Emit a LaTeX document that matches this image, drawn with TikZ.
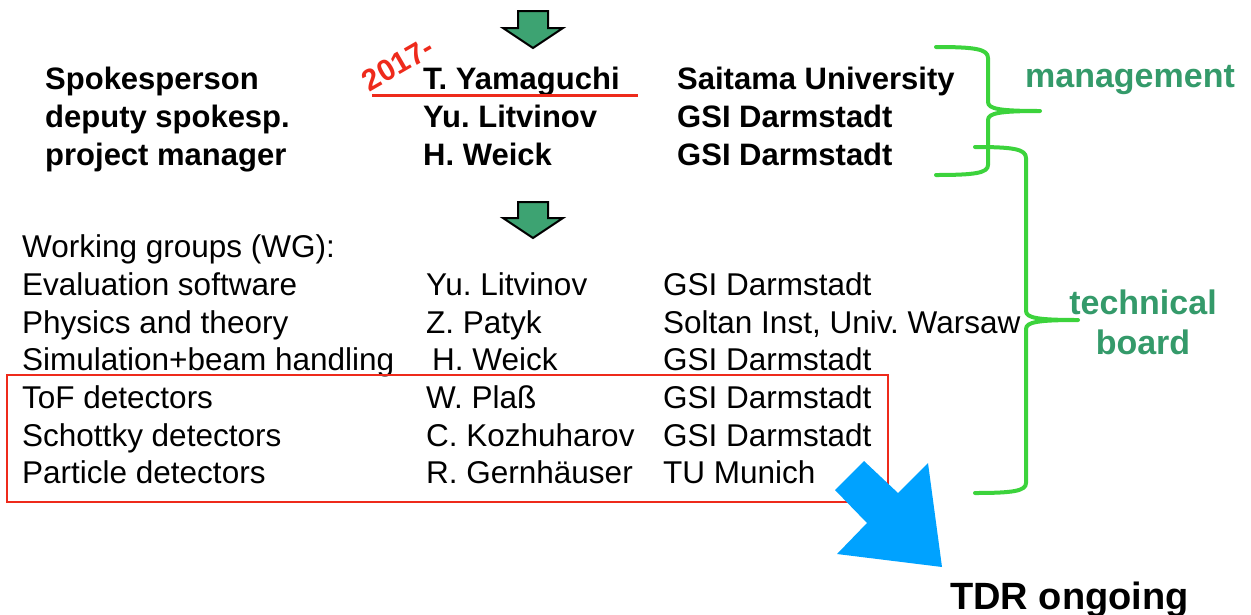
\documentclass[tikz,border=0pt]{standalone}
\usepackage{fontspec}
\setmainfont{Liberation Sans}
\usetikzlibrary{positioning}
\definecolor{bracegreen}{HTML}{3CD33C}
\definecolor{labelgreen}{HTML}{349A6A}
\definecolor{arrowgreen}{HTML}{3DA372}
\definecolor{markred}{HTML}{EE2A1B}
\definecolor{tdrblue}{HTML}{00A2FF}

\tikzset{
  boldrow/.style={anchor=base west, inner sep=0pt, font=\fontsize{31}{36}\selectfont\bfseries},
  wgrow/.style={anchor=base west, inner sep=0pt, font=\fontsize{31.5}{38}\selectfont},
  grouplabel/.style={text=labelgreen, align=center, font=\fontsize{34}{40}\selectfont\bfseries},
  curly/.style={bracegreen, line width=4pt, line cap=round, line join=round},
  stepdown/.style={fill=arrowgreen, draw=black, line width=2pt, line join=miter}
}
\frenchspacing

\begin{document}
\begin{tikzpicture}[x=1pt, y=-1pt]

% Canvas
\useasboundingbox (0,0) rectangle (1251,614);

% Green step arrows
\draw[stepdown] (518,11) -- (548,11) -- (548,28) -- (563,28) -- (533,48)
  -- (503,28) -- (518,28) -- cycle;
\draw[stepdown] (518,202) -- (548,202) -- (548,218) -- (563,218) -- (533,238)
  -- (503,218) -- (518,218) -- cycle;

%% Management rows
\node[boldrow] (spokes) at (45,89) {Spokesperson};
\node[boldrow] (yamaguchi) at (423,89) {T. Yamaguchi};
\node[boldrow] (saitama) at (677,89) {Saitama University};
\node[boldrow] (deputy) at (45,127) {deputy spokesp.};
\node[boldrow] (litvinov) at (423,127) {Yu. Litvinov};
\node[boldrow] (gsia) at (677,127) {GSI Darmstadt};
\node[boldrow] (manager) at (45,165) {project manager};
\node[boldrow] (weick) at (423,165) {H. Weick};
\node[boldrow] (gsib) at (677,165) {GSI Darmstadt};

% Change of spokesperson
\draw[markred, line width=3pt] (372,95) -- (638,95);
\node[text=markred, rotate=30, inner sep=0pt, font=\fontsize{30}{32}\selectfont\bfseries] (year) at (398,64) {2017-};

%% Working groups
\node[wgrow] (wg) at (22,257) {Working groups (WG):};
\node[wgrow] (evalwg) at (22,295) {Evaluation software};
\node[wgrow] (evallead) at (426,295) {Yu. Litvinov};
\node[wgrow] (evalinst) at (663,295) {GSI Darmstadt};
\node[wgrow] (physwg) at (22,333) {Physics and theory};
\node[wgrow] (physlead) at (426,333) {Z. Patyk};
\node[wgrow] (physinst) at (663,333) {Soltan Inst, Univ. Warsaw};
\node[wgrow] (simwg) at (22,370) {Simulation+beam handling};
\node[wgrow] (simlead) at (432,370) {H. Weick};
\node[wgrow] (siminst) at (663,370) {GSI Darmstadt};
\node[wgrow] (tofwg) at (22,408) {ToF detectors};
\node[wgrow] (toflead) at (426,408) {W. Plaß};
\node[wgrow] (tofinst) at (663,408) {GSI Darmstadt};
\node[wgrow] (schwg) at (22,446) {Schottky detectors};
\node[wgrow] (schlead) at (426,446) {C. Kozhuharov};
\node[wgrow] (schinst) at (663,446) {GSI Darmstadt};
\node[wgrow] (partwg) at (22,483) {Particle detectors};
\node[wgrow] (partlead) at (426,483) {R. Gernhäuser};
\node[wgrow] (partinst) at (663,483) {TU Munich};

% Detector groups frame
\draw[markred, line width=2pt] (7,375) rectangle (888,502);

%% Braces
\draw[curly] (936,47) .. controls (975,47) and (988,49) .. (988,58) -- (988,102)
  .. controls (988,109) and (1000,111) .. (1040,111)
  .. controls (1000,111) and (988,113) .. (988,120) -- (988,165)
  .. controls (988,173) and (975,175) .. (936,175);
\node[grouplabel] (mgmt) at (1130,80) {management};

\draw[curly] (975,147) .. controls (1013,147) and (1026,149) .. (1026,158) -- (1026,311)
  .. controls (1026,318) and (1038,320) .. (1078,320)
  .. controls (1038,320) and (1026,322) .. (1026,329) -- (1026,483)
  .. controls (1026,491) and (1013,493) .. (975,493);
\node[grouplabel] (board) at (1143,322) {technical\\board};

%% TDR
\fill[tdrblue] (864,461) -- (898,493) -- (928,463) -- (942,567) -- (837,554)
  -- (867,523) -- (835,490) -- cycle;
\node[anchor=base west, inner sep=0pt, font=\fontsize{38}{44}\selectfont\bfseries] (tdr) at (950,609) {TDR ongoing};

\end{tikzpicture}
\end{document}
